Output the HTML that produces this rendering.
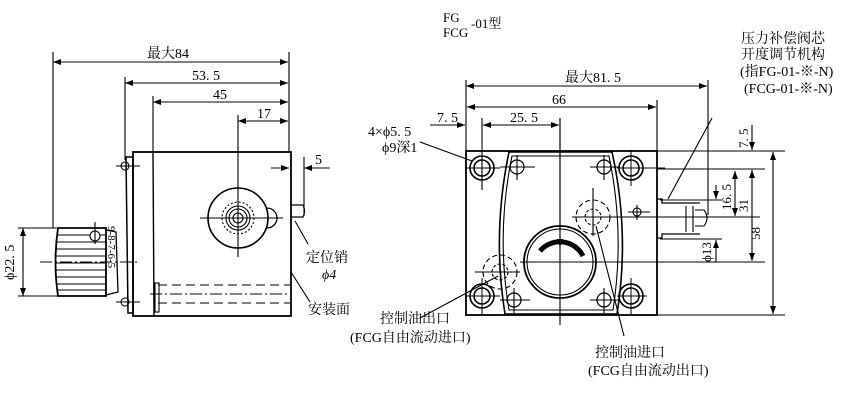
<!DOCTYPE html>
<html><head><meta charset="utf-8"><style>
body{margin:0;background:#fff}
svg{display:block}
text{font-family:"Liberation Serif","Noto Serif CJK SC",serif;fill:#000}
.c{font-family:"Liberation Serif","Noto Serif CJK SC",serif}
</style></head><body>
<svg width="862" height="402" viewBox="0 0 862 402" xmlns="http://www.w3.org/2000/svg">
<defs><marker id="a" markerWidth="8" markerHeight="6" refX="8" refY="3" orient="auto-start-reverse" markerUnits="userSpaceOnUse"><path d="M0,0 L8,3 L0,6 Z" fill="#000"/></marker></defs>
<g stroke="#000" fill="none" stroke-width="1.1">
<!-- LEFT VIEW -->
<line x1="53" y1="52" x2="53" y2="228"/>
<line x1="289" y1="52" x2="289" y2="152"/>
<line x1="53" y1="62" x2="288" y2="62" marker-start="url(#a)" marker-end="url(#a)"/>
<line x1="125" y1="77" x2="125" y2="160"/>
<line x1="125" y1="83" x2="288" y2="83" marker-start="url(#a)" marker-end="url(#a)"/>
<line x1="153" y1="96" x2="153" y2="152"/>
<line x1="153" y1="102" x2="288" y2="102" marker-start="url(#a)" marker-end="url(#a)"/>
<line x1="238" y1="115" x2="238" y2="257"/>
<line x1="238" y1="121" x2="288" y2="121" marker-start="url(#a)"  marker-end="url(#a)"/>
<line x1="271" y1="168" x2="289" y2="168" marker-end="url(#a)"/>
<line x1="330" y1="168" x2="304" y2="168" marker-end="url(#a)"/>
<line x1="304" y1="157" x2="304" y2="216"/>
<rect x="133" y="152" width="158" height="164" stroke-width="1.8"/>
<line x1="153" y1="152" x2="154" y2="316" stroke-width="1.4"/>
<path d="M126,157 L133,157 L133,313 L128,313 Z" stroke-width="1.5"/>
<circle cx="125" cy="166" r="4"/><circle cx="125" cy="302" r="4"/>
<line x1="116" y1="166" x2="140" y2="166"/><line x1="116" y1="302" x2="140" y2="302"/>
<circle cx="238" cy="218" r="30" stroke-width="1.6"/>
<circle cx="238" cy="218" r="16" stroke-dasharray="2,2"/>
<circle cx="238" cy="218" r="12"/><circle cx="238" cy="218" r="9"/><circle cx="238" cy="218" r="5"/>
<path d="M267,208 A8,8 0 0 1 267,228" stroke-width="1.3"/>
<line x1="200" y1="218" x2="283" y2="218"/>
<path d="M291,205 L303,205 Q306,211 303,217 L291,217" stroke-width="1.3"/>
<line x1="295" y1="221" x2="308" y2="244"/>
<line x1="291" y1="272" x2="310" y2="302"/>
<line x1="158" y1="285" x2="290" y2="285" stroke-dasharray="9,5"/>
<line x1="158" y1="303" x2="290" y2="303" stroke-dasharray="9,5"/>
<line x1="150" y1="294" x2="290" y2="294" stroke-dasharray="12,3,2,3"/>
<rect x="155" y="283" width="4" height="29"/>
<!-- knob -->
<path d="M58,228 L106,228 L106,296 L58,296 Q53,262 58,228 Z" stroke-width="1.8"/>
<g stroke-width="1"><line x1="57" y1="235" x2="106" y2="235"/><line x1="56" y1="242" x2="106" y2="242"/><line x1="56" y1="249" x2="106" y2="249"/><line x1="55" y1="256" x2="106" y2="256"/><line x1="55" y1="263" x2="106" y2="263"/><line x1="55" y1="270" x2="106" y2="270"/><line x1="56" y1="277" x2="106" y2="277"/><line x1="56" y1="284" x2="106" y2="284"/><line x1="57" y1="290" x2="106" y2="290"/></g>
<path d="M106,230 L116,232 L118,292 L106,295" stroke-width="1.3"/>
<circle cx="95" cy="236" r="5" fill="#fff"/><line x1="95" y1="222" x2="95" y2="244"/>
<line x1="40" y1="262" x2="140" y2="262" stroke-dasharray="12,3,2,3"/>
<line x1="18" y1="228" x2="58" y2="228"/><line x1="18" y1="296" x2="58" y2="296"/>
<line x1="23" y1="228" x2="23" y2="296" marker-start="url(#a)" marker-end="url(#a)"/>
<!-- RIGHT VIEW -->
<rect x="466" y="151" width="191" height="164" stroke-width="1.8"/>
<line x1="466" y1="80" x2="466" y2="151"/>
<line x1="708" y1="80" x2="708" y2="215"/>
<line x1="466" y1="86" x2="707" y2="86" marker-start="url(#a)" marker-end="url(#a)"/>
<line x1="657" y1="100" x2="657" y2="151"/>
<line x1="467" y1="107" x2="656" y2="107" marker-start="url(#a)" marker-end="url(#a)"/>
<line x1="430" y1="125" x2="465" y2="125" marker-end="url(#a)"/>
<line x1="483" y1="125" x2="559" y2="125" marker-start="url(#a)" marker-end="url(#a)"/>
<line x1="482" y1="118" x2="482" y2="190"/>
<line x1="560" y1="118" x2="560" y2="325"/>
<line x1="560" y1="118" x2="560" y2="247" marker-end="url(#a)"/>
<line x1="420" y1="142" x2="472" y2="161"/>
<line x1="420" y1="318" x2="498" y2="276"/>
<line x1="596" y1="226" x2="624" y2="336"/>
<line x1="668" y1="199" x2="712" y2="118"/>
<g stroke-width="1.6">
<circle cx="482" cy="168" r="12"/><circle cx="482" cy="168" r="8"/>
<circle cx="631" cy="168" r="12"/><circle cx="631" cy="168" r="8"/>
<circle cx="482" cy="296" r="12"/><circle cx="482" cy="296" r="8"/>
<circle cx="631" cy="296" r="12"/><circle cx="631" cy="296" r="8"/>
</g>
<g stroke-width="1">
<line x1="466" y1="168" x2="500" y2="168"/><line x1="617" y1="168" x2="665" y2="168"/>
<line x1="466" y1="296" x2="500" y2="296"/><line x1="617" y1="296" x2="647" y2="296"/>
<line x1="631" y1="150" x2="631" y2="186"/><line x1="482" y1="278" x2="482" y2="314"/><line x1="631" y1="278" x2="631" y2="314"/>
</g>
<path d="M509,152 L612,152 Q630,233 617,314 L505,314 Q492,233 509,152 Z" stroke-width="1.6"/>
<path d="M512,156 L609,156 Q625,233 613,310 L509,310 Q496,233 512,156 Z" stroke-width="1.1"/>
<g stroke-width="1.2"><circle cx="517" cy="167" r="7"/><circle cx="604" cy="167" r="7"/><circle cx="514" cy="300" r="7"/><circle cx="604" cy="300" r="7"/></g>
<line x1="500" y1="167" x2="535" y2="167"/><line x1="590" y1="167" x2="620" y2="167"/>
<line x1="500" y1="300" x2="530" y2="300"/><line x1="590" y1="300" x2="620" y2="300"/>
<line x1="517" y1="155" x2="517" y2="180"/><line x1="604" y1="155" x2="604" y2="180"/>
<line x1="514" y1="288" x2="514" y2="313"/><line x1="604" y1="288" x2="604" y2="313"/>
<circle cx="560" cy="262" r="36" stroke-width="1.8"/><circle cx="560" cy="262" r="33"/>
<path d="M540,251 A26,26 0 0 1 583,256" stroke-width="5"/>
<line x1="520" y1="262" x2="700" y2="262"/>
<circle cx="593" cy="217" r="17" stroke-dasharray="5,3"/><circle cx="593" cy="217" r="8" stroke-dasharray="3,2"/>
<line x1="572" y1="217" x2="760" y2="217"/><line x1="593" y1="188" x2="593" y2="236"/>
<circle cx="500" cy="272" r="17" stroke-dasharray="5,3"/><circle cx="500" cy="272" r="8" stroke-dasharray="3,2"/>
<line x1="475" y1="272" x2="520" y2="272"/>
<circle cx="637" cy="212" r="4"/><line x1="628" y1="212" x2="650" y2="212"/><line x1="637" y1="205" x2="637" y2="220"/>
<!-- side device -->
<path d="M657,199 L662,199 L662,203 L700,203 M657,238 L662,238 L662,234 L700,234" stroke-width="1.3"/>
<path d="M686,206 L686,232 M693,206 L693,232 M695,210 L704,210 Q710,218 704,226 L695,226" stroke-width="1.1"/>
<!-- right dims -->
<line x1="657" y1="151" x2="785" y2="151"/>
<line x1="657" y1="169" x2="765" y2="169"/>
<line x1="660" y1="200" x2="722" y2="200"/>
<line x1="660" y1="239" x2="722" y2="239"/>
<line x1="657" y1="262" x2="765" y2="262"/>
<line x1="657" y1="315" x2="785" y2="315"/>
<line x1="773" y1="152" x2="773" y2="314" marker-start="url(#a)" marker-end="url(#a)"/>
<line x1="752" y1="170" x2="752" y2="261" marker-start="url(#a)" marker-end="url(#a)"/>
<line x1="752" y1="125" x2="752" y2="150" marker-end="url(#a)"/>
<line x1="735" y1="171" x2="735" y2="216" marker-start="url(#a)" marker-end="url(#a)"/>
<line x1="716" y1="185" x2="716" y2="199" marker-end="url(#a)"/>
<line x1="716" y1="262" x2="716" y2="240" marker-end="url(#a)"/>
</g>
<!-- TEXT -->
<g font-size="14">
<text x="147" y="58">最大84</text>
<text x="192" y="80">53. 5</text>
<text x="213" y="99">45</text>
<text x="257" y="118">17</text>
<text x="315" y="164">5</text>
<text x="306" y="262">定位销</text>
<text x="322" y="279" font-style="italic">ϕ4</text>
<text x="308" y="314">安装面</text>
<text x="14" y="280" transform="rotate(-90 14 280)">ϕ22. 5</text>
<text x="108" y="226" font-size="11" transform="rotate(90 108 226)">9-8-7-6-5</text>
<text x="443" y="22" font-size="13">FG</text>
<text x="443" y="37" font-size="13">FCG</text>
<text x="471" y="28" font-size="13">-01型</text>
<text x="741" y="43">压力补偿阀芯</text>
<text x="741" y="59">开度调节机构</text>
<text x="740" y="76">(指FG-01-※-N)</text>
<text x="744" y="93">(FCG-01-※-N)</text>
<text x="565" y="82">最大81. 5</text>
<text x="552" y="104">66</text>
<text x="437" y="122">7. 5</text>
<text x="510" y="122">25. 5</text>
<text x="368" y="136">4×ϕ5. 5</text>
<text x="382" y="152">ϕ9深1</text>
<text x="380" y="323">控制油出口</text>
<text x="350" y="342">(FCG自由流动进口)</text>
<text x="595" y="357">控制油进口</text>
<text x="588" y="375">(FCG自由流动出口)</text>
<text x="760" y="240" font-size="13" transform="rotate(-90 760 240)">58</text>
<text x="748" y="212" font-size="13" transform="rotate(-90 748 212)">31</text>
<text x="731" y="210" font-size="13" transform="rotate(-90 731 210)">16. 5</text>
<text x="748" y="148" font-size="13" transform="rotate(-90 748 148)">7. 5</text>
<text x="711" y="262" font-size="13" transform="rotate(-90 711 262)">ϕ13</text>
</g>
</svg>
</body></html>
